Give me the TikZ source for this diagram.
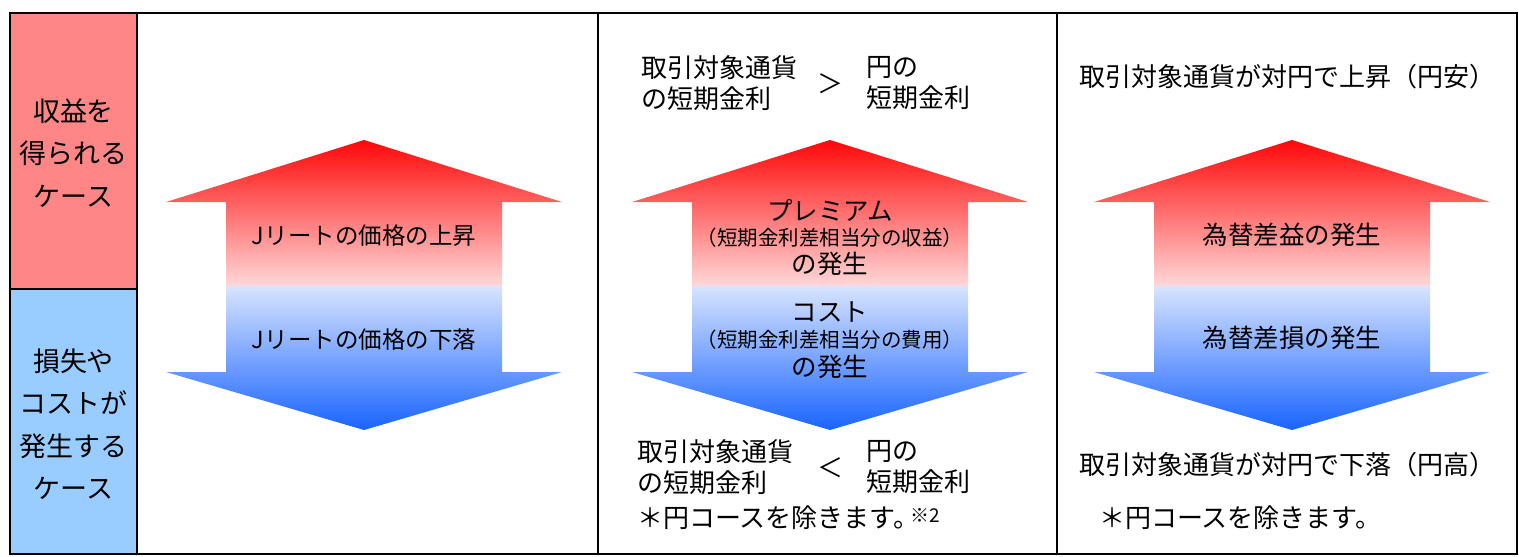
\documentclass[tikz,border=0pt]{standalone}
\usepackage{fontspec}
\setmainfont{Noto Sans CJK JP}
\definecolor{gainbg}{RGB}{255,134,134}
\definecolor{lossbg}{RGB}{153,204,255}
\definecolor{upTop}{RGB}{255,8,8}
\definecolor{upBot}{RGB}{255,216,216}
\definecolor{dnTop}{RGB}{216,228,255}
\definecolor{dnBot}{RGB}{25,100,255}
\begin{document}
\begin{tikzpicture}[x=1pt,y=-1pt,
  frame/.style={draw=black,line width=1.6pt},
  side/.style={font=\fontsize{27}{42.5}\selectfont,align=center,inner sep=0pt},
  atxt/.style={font=\fontsize{25.5}{28}\selectfont,align=center,inner sep=0pt},
  jtxt/.style={font=\fontsize{23.5}{28}\selectfont,align=center,inner sep=0pt},
  ptxt/.style={font=\fontsize{26}{31}\selectfont,align=left,inner sep=0pt},
  smalltxt/.style={font=\fontsize{20.5}{24}\selectfont,inner sep=0pt},
  uparrow/.pic={\shade[top color=upTop,bottom color=upBot]
     (0,140) -- (198,202) -- (138,202) -- (138,286) -- (-138,286) -- (-138,202) -- (-198,202) -- cycle;},
  dnarrow/.pic={\shade[top color=dnTop,bottom color=dnBot]
     (-138,286) -- (138,286) -- (138,372) -- (198,372) -- (0,430) -- (-198,372) -- (-138,372) -- cycle;}
]
\useasboundingbox (0,0) rectangle (1519,557);
% left category cells
\fill[gainbg] (10,13) rectangle (137,289);
\fill[lossbg] (10,289) rectangle (137,554);
% arrows
\pic at (364,0) {uparrow};
\pic at (364,0) {dnarrow};
\pic at (830,0) {uparrow};
\pic at (830,0) {dnarrow};
\pic at (1292,0) {uparrow};
\pic at (1292,0) {dnarrow};
% frame
\draw[frame] (10,13) rectangle (1517,554);
\draw[frame] (137,13) -- (137,554);
\draw[frame] (598,13) -- (598,554);
\draw[frame] (1057,13) -- (1057,554);
\draw[frame] (10,289) -- (137,289);
% side labels
\node[side] (gain) at (73.5,153) {収益を\\得られる\\ケース};
\node[side] (loss) at (73.5,424) {損失や\\コストが\\発生する\\ケース};
% column 1
\node[jtxt] (c1u) at (364,236) {Jリートの価格の上昇};
\node[jtxt] (c1d) at (364,340) {Jリートの価格の下落};
% column 2
\node[ptxt,anchor=west] (c2tl) at (641,83) {取引対象通貨\\の短期金利};
\node[ptxt] (c2tg) at (830,84) {＞};
\node[ptxt,anchor=west] (c2tr) at (866,83) {円の\\短期金利};
\node[atxt] (c2u1) at (830,210) {プレミアム};
\node[smalltxt] (c2u2) at (830,238) {（短期金利差相当分の収益）};
\node[atxt] (c2u3) at (830,264) {の発生};
\node[atxt] (c2d1) at (830,312) {コスト};
\node[smalltxt] (c2d2) at (830,340) {（短期金利差相当分の費用）};
\node[atxt] (c2d3) at (830,367) {の発生};
\node[ptxt,anchor=west] (c2bl) at (637,467) {取引対象通貨\\の短期金利};
\node[ptxt] (c2bl2) at (830,468) {＜};
\node[ptxt,anchor=west] (c2br) at (866,467) {円の\\短期金利};
\node[ptxt,anchor=west] (c2note) at (637,518) {＊円コースを除きます。\hspace{-9pt}\raisebox{0.4ex}{\fontsize{19}{19}\selectfont ※2}};
% column 3
\node[ptxt,anchor=west] (c3t) at (1079,77) {取引対象通貨が対円で上昇（円安）};
\node[atxt] (c3u) at (1292,235) {為替差益の発生};
\node[atxt] (c3d) at (1292,338) {為替差損の発生};
\node[ptxt,anchor=west] (c3b) at (1079,465) {取引対象通貨が対円で下落（円高）};
\node[ptxt,anchor=west] (c3note) at (1099,518) {＊円コースを除きます。};
\end{tikzpicture}
\end{document}
